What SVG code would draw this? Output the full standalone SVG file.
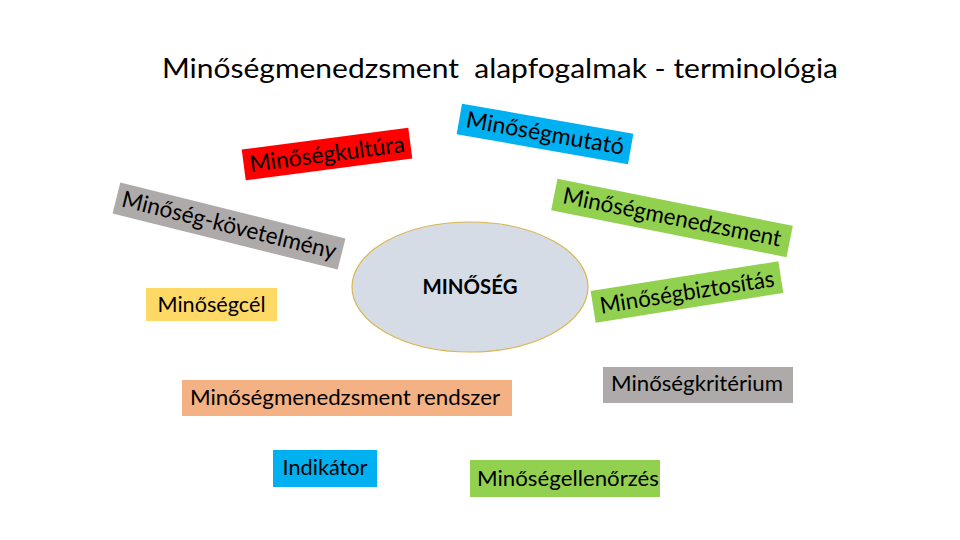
<svg xmlns="http://www.w3.org/2000/svg" width="960" height="540" viewBox="0 0 960 540">
<style>
text{font-family:Lato,"Open Sans","Liberation Sans",sans-serif;fill:#000}
.t{font-size:21px;text-anchor:middle}
.r{font-size:23px;text-anchor:middle}
</style>
<rect width="960" height="540" fill="#fff"/>
<text x="500" y="78" font-size="26" text-anchor="middle" style="white-space:pre" xml:space="preserve" textLength="676" lengthAdjust="spacingAndGlyphs">Minőségmenedzsment  alapfogalmak - terminológia</text>
<g id="minoseg">
<ellipse cx="470" cy="287" rx="118" ry="65" fill="#d6dce5" stroke="#d9b650" stroke-width="1.2"/>
<text x="470" y="294" font-size="20" font-weight="bold" text-anchor="middle" textLength="95" lengthAdjust="spacingAndGlyphs">MINŐSÉG</text>
</g>
<g id="kultura" transform="translate(327,154) rotate(-7.5)">
<rect x="-84" y="-15.5" width="168" height="31" fill="#ff0000"/>
<text class="r" y="8" font-size="21" textLength="156" lengthAdjust="spacingAndGlyphs">Minőségkultúra</text>
</g>
<g id="mutato" transform="translate(545,134) rotate(10)">
<rect x="-87" y="-15.5" width="174" height="31" fill="#00b0f0"/>
<text class="r" y="7" textLength="160" lengthAdjust="spacingAndGlyphs">Minőségmutató</text>
</g>
<g id="kovetelmeny" transform="translate(229,226) rotate(14)">
<rect x="-116" y="-16" width="232" height="32" fill="#aeaaaa"/>
<text class="r" y="7" textLength="220" lengthAdjust="spacingAndGlyphs">Minőség-követelmény</text>
</g>
<g id="menedzsment" transform="translate(672,218) rotate(11.3)">
<rect x="-120" y="-16" width="240" height="32" fill="#92d050"/>
<text class="r" y="7" textLength="222" lengthAdjust="spacingAndGlyphs">Minőségmenedzsment</text>
</g>
<g id="biztositas" transform="translate(687,292) rotate(-9)">
<rect x="-95" y="-16" width="190" height="32" fill="#92d050"/>
<text class="r" y="8" textLength="176" lengthAdjust="spacingAndGlyphs">Minőségbiztosítás</text>
</g>
<g id="cel">
<rect x="146" y="288" width="131" height="33" fill="#ffd966"/>
<text class="t" x="211.5" y="312" textLength="108" lengthAdjust="spacingAndGlyphs">Minőségcél</text>
</g>
<g id="rendszer">
<rect x="182" y="380" width="330" height="36" fill="#f4b183"/>
<text class="t" x="345" y="405" textLength="310" lengthAdjust="spacingAndGlyphs">Minőségmenedzsment rendszer</text>
</g>
<g id="kriterium">
<rect x="603" y="367" width="190" height="36" fill="#aeaaaa"/>
<text class="t" x="697" y="391" textLength="172" lengthAdjust="spacingAndGlyphs">Minőségkritérium</text>
</g>
<g id="indikator">
<rect x="273" y="450" width="104" height="37" fill="#00b0f0"/>
<text class="t" x="325" y="475" textLength="85" lengthAdjust="spacingAndGlyphs">Indikátor</text>
</g>
<g id="ellenorzes">
<rect x="470" y="460" width="190" height="37" fill="#92d050"/>
<text class="t" x="568" y="486" textLength="182" lengthAdjust="spacingAndGlyphs">Minőségellenőrzés</text>
</g>
<g id="connectors"></g>
</svg>
